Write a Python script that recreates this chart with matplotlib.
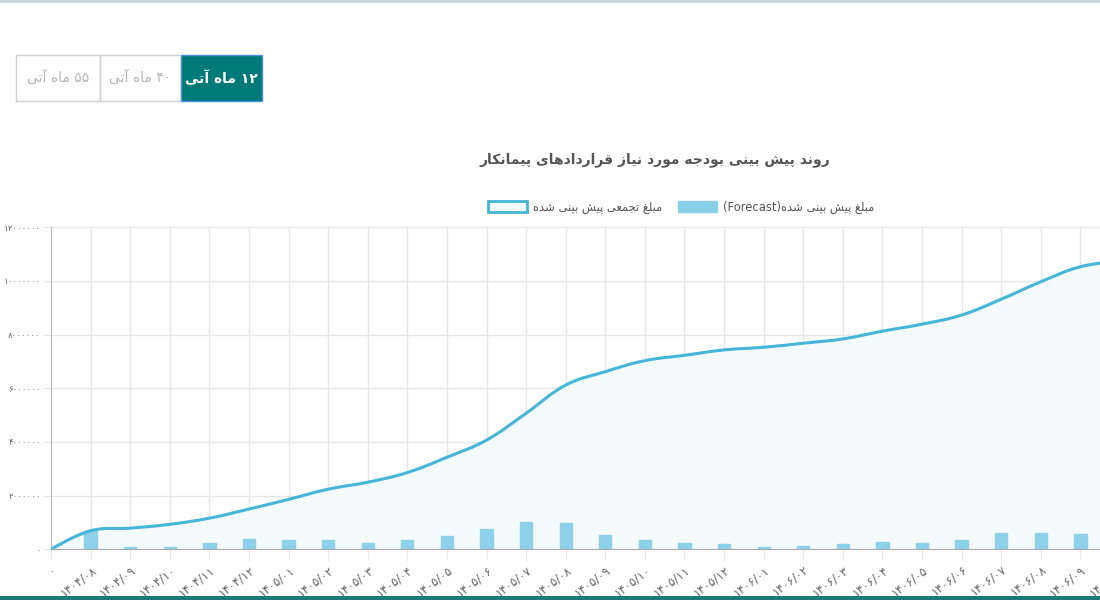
import matplotlib
matplotlib.use("Agg")
import matplotlib.pyplot as plt
import numpy as np
from matplotlib.path import Path
from matplotlib.patches import PathPatch, Patch, Rectangle
from matplotlib.lines import Line2D

plt.rcParams['font.family'] = ['DejaVu Sans']

# data
months = ['۰', '۱۴۰۴/۰۸', '۱۴۰۴/۰۹', '۱۴۰۴/۱۰', '۱۴۰۴/۱۱', '۱۴۰۴/۱۲',
          '۱۴۰۵/۰۱', '۱۴۰۵/۰۲', '۱۴۰۵/۰۳', '۱۴۰۵/۰۴', '۱۴۰۵/۰۵', '۱۴۰۵/۰۶',
          '۱۴۰۵/۰۷', '۱۴۰۵/۰۸', '۱۴۰۵/۰۹', '۱۴۰۵/۱۰', '۱۴۰۵/۱۱', '۱۴۰۵/۱۲',
          '۱۴۰۶/۰۱', '۱۴۰۶/۰۲', '۱۴۰۶/۰۳', '۱۴۰۶/۰۴', '۱۴۰۶/۰۵', '۱۴۰۶/۰۶',
          '۱۴۰۶/۰۷', '۱۴۰۶/۰۸', '۱۴۰۶/۰۹', '۱۴۰۶/۱۰']
forecast = [0, 700000, 100000, 100000, 220000, 375000,
            350000, 350000, 240000, 330000, 510000, 740000,
            1010000, 990000, 540000, 340000, 230000, 200000,
            100000, 140000, 190000, 270000, 240000, 350000,
            610000, 590000, 560000, 220000]
cumulative = [0, 690000, 790000, 930000, 1160000, 1500000,
              1860000, 2240000, 2500000, 2860000, 3430000, 4070000,
              5070000, 6120000, 6620000, 7030000, 7230000, 7430000,
              7530000, 7680000, 7840000, 8130000, 8390000, 8730000,
              9320000, 9970000, 10530000, 10750000]
y_ticks = [0, 2000000, 4000000, 6000000, 8000000, 10000000, 12000000]

title = 'روند پیش بینی بودجه مورد نیاز قراردادهای پیمانکار'
line_label = 'مبلغ تجمعی پیش بینی شده'
bar_label = 'مبلغ پیش بینی شده(Forecast)'
tabs = ['۵۵ ماه آتی', '۴۰ ماه آتی', '۱۲ ماه آتی']
active_tab = 2

LINE_C = '#45B5D8'
BAR_C = '#89CFEA'
FILL_C = '#F4FBFD'
TEAL = '#007A78'

# minimal persian shaping (matplotlib has no text shaping)
FORMS = {
    'ا': (0xFE8D, 0xFE8E), 'آ': (0xFE81, 0xFE82), 'د': (0xFEA9, 0xFEAA),
    'ر': (0xFEAD, 0xFEAE), 'ز': (0xFEAF, 0xFEB0), 'و': (0xFEED, 0xFEEE),
    'ب': (0xFE8F, 0xFE90, 0xFE91, 0xFE92), 'پ': (0xFB56, 0xFB57, 0xFB58, 0xFB59),
    'ت': (0xFE95, 0xFE96, 0xFE97, 0xFE98), 'ج': (0xFE9D, 0xFE9E, 0xFE9F, 0xFEA0),
    'ش': (0xFEB5, 0xFEB6, 0xFEB7, 0xFEB8), 'ع': (0xFEC9, 0xFECA, 0xFECB, 0xFECC),
    'غ': (0xFECD, 0xFECE, 0xFECF, 0xFED0), 'ق': (0xFED5, 0xFED6, 0xFED7, 0xFED8),
    'ک': (0xFB8E, 0xFB8F, 0xFB90, 0xFB91), 'ل': (0xFEDD, 0xFEDE, 0xFEDF, 0xFEE0),
    'م': (0xFEE1, 0xFEE2, 0xFEE3, 0xFEE4), 'ن': (0xFEE5, 0xFEE6, 0xFEE7, 0xFEE8),
    'ه': (0xFEE9, 0xFEEA, 0xFEEB, 0xFEEC), 'ی': (0xFBFC, 0xFBFD, 0xFBFE, 0xFBFF),
}
MIRROR = {'(': ')', ')': '('}


def shape(s):
    out = []
    for i, ch in enumerate(s):
        f = FORMS.get(ch)
        if f is None:
            out.append(ch)
            continue
        prev = s[i - 1] if i > 0 else ''
        nxt = s[i + 1] if i + 1 < len(s) else ''
        jp = prev in FORMS and len(FORMS[prev]) == 4
        jn = len(f) == 4 and nxt in FORMS
        if jp and jn:
            c = f[3]
        elif jp:
            c = f[1]
        elif jn:
            c = f[2]
        else:
            c = f[0]
        out.append(chr(c))
    return ''.join(out)


def is_ltr(ch):
    return (ch.isascii() and ch.isalnum()) or '\u06f0' <= ch <= '\u06f9' or ch in '/.'


def fa(s):
    s = shape(s)
    runs = []
    for ch in s:
        l = is_ltr(ch)
        if runs and runs[-1][0] == l:
            runs[-1][1].append(ch)
        else:
            runs.append([l, [ch]])
    out = ''
    for l, chars in reversed(runs):
        if l:
            out += ''.join(chars)
        else:
            out += ''.join(MIRROR.get(c, c) for c in reversed(chars))
    return out


def fa_digits(n):
    return str(n).translate(str.maketrans('0123456789', '۰۱۲۳۴۵۶۷۸۹'))


def px(x, y):
    return x / 1100, 1 - y / 600


fig = plt.figure(figsize=(11, 6), dpi=100)
fig.patch.set_facecolor('white')

# plot area extends past the right edge like the screenshot
x0, y0 = px(51, 549.3)
x1, y1 = px(1120, 227.3)
ax = fig.add_axes([x0, y0, x1 - x0, y1 - y0])
ax.set_xlim(0, len(months) - 1)
ax.set_ylim(0, 12000000)

x = np.arange(len(months))
ax.bar(x, forecast, width=0.31, color=BAR_C, edgecolor=BAR_C, alpha=0.95, zorder=3)

# smooth curve like chart.js (tension 0.4), control points in pixel-like units
sx, sy = 39.6, 26.83e-6
pts = np.column_stack([x * sx, np.array(cumulative) * sy])
n = len(pts)
cp_prev = pts.copy()
cp_next = pts.copy()
t = 0.4
for i in range(1, n - 1):
    d01 = np.hypot(*(pts[i] - pts[i - 1]))
    d12 = np.hypot(*(pts[i + 1] - pts[i]))
    fa_ = t * d01 / (d01 + d12)
    fb_ = t * d12 / (d01 + d12)
    cp_prev[i] = pts[i] - fa_ * (pts[i + 1] - pts[i - 1])
    cp_next[i] = pts[i] + fb_ * (pts[i + 1] - pts[i - 1])
verts = [pts[0]]
codes = [Path.MOVETO]
for i in range(n - 1):
    verts += [cp_next[i], cp_prev[i + 1], pts[i + 1]]
    codes += [Path.CURVE4] * 3
verts = np.array(verts) / np.array([sx, sy])
curve = Path(verts, codes)
fill_path = Path(np.vstack([verts, [[verts[-1][0], 0], [0, 0], [0, 0]]]),
                 codes + [Path.LINETO, Path.LINETO, Path.CLOSEPOLY])
ax.add_patch(PathPatch(fill_path, facecolor=FILL_C, edgecolor='none', zorder=1))
ax.add_patch(PathPatch(curve, facecolor='none', edgecolor=LINE_C, lw=2.2, zorder=4))

ax.set_xticks(x)
ax.set_xticklabels(months)
ax.set_yticks(y_ticks)
ax.set_yticklabels([fa_digits(v) for v in y_ticks])
ax.grid(True, color='#E6E6E6', lw=1, zorder=0)
ax.set_axisbelow(True)
ax.tick_params(axis='both', color='#E6E6E6', labelcolor='#666666')
ax.tick_params(axis='y', labelsize=6.2, pad=1.5, length=6)
ax.tick_params(axis='x', labelsize=8.5, pad=2, length=8)
for lab in ax.get_xticklabels():
    lab.set_rotation(37)
    lab.set_ha('right')
    lab.set_rotation_mode('anchor')
for side in ['top', 'right']:
    ax.spines[side].set_visible(False)
ax.spines['left'].set_color('#BBBBBB')
ax.spines['bottom'].set_color('#AAAAAA')

# title and legend
tx, ty = px(655, 160)
fig.text(tx, ty, fa(title), ha='center', va='center', fontsize=10,
         fontweight='bold', color='#555555')
handles = [Patch(facecolor=FILL_C, edgecolor=LINE_C, lw=2),
           Patch(facecolor=BAR_C, edgecolor=BAR_C)]
lx, ly = px(681, 207)
fig.legend(handles, [fa(line_label), fa(bar_label)], loc='center',
           bbox_to_anchor=(lx, ly), ncol=2, frameon=False, fontsize=8.3,
           handlelength=3.4, handleheight=1.2, columnspacing=1.4,
           handletextpad=0.5, labelcolor='#555555')

# period tabs
tab_x = [16, 100, 181, 262]
for i, label in enumerate(tabs):
    bx, by = px(tab_x[i], 101)
    w = (tab_x[i + 1] - tab_x[i]) / 1100
    h = 46 / 600
    if i == active_tab:
        fig.add_artist(Rectangle((bx, by), w, h, transform=fig.transFigure,
                                 facecolor=TEAL, edgecolor='#4A90E2', lw=1))
        color = 'white'
    else:
        fig.add_artist(Rectangle((bx, by), w, h, transform=fig.transFigure,
                                 facecolor='white', edgecolor='#D0D0D0', lw=1))
        color = '#B5B5B5'
    fig.text(bx + w / 2, by + h / 2, fa(label), ha='center', va='center',
             fontsize=10, color=color, fontweight='bold' if i == active_tab else 'normal')

# page borders
fig.add_artist(Line2D([0, 1], [1 - 1 / 600] * 2, color='#C8D3DA', lw=2))
fig.add_artist(Rectangle((0, 0), 1, 4 / 600, transform=fig.transFigure,
                         facecolor='#1D7A7A', edgecolor='none'))

fig.savefig('out.png', dpi=100)
